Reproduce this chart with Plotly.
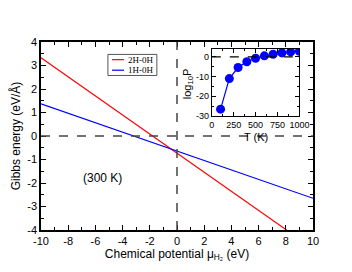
import plotly.graph_objects as go

mu = [-10, 10]
g_2h0h = [3.33, -4.79]
g_1h0h = [1.37, -2.65]

T = [100, 200, 300, 400, 500, 600, 700, 800, 900, 1000]
logP = [-26.5, -11, -5.4, -2.5, -0.7, 0.5, 1.3, 2.0, 2.5, 2.8]

x_ticks = [-10, -8, -6, -4, -2, 0, 2, 4, 6, 8, 10]
y_ticks = [-4, -3, -2, -1, 0, 1, 2, 3, 4]
t_ticks = [0, 250, 500, 750, 1000]
p_ticks = [-30, -20, -10, 0]

fig = go.Figure()
fig.add_trace(go.Scatter(x=mu, y=g_2h0h, mode="lines", line=dict(color="red", width=1.2), name="2H-0H",
                         showlegend=False))
fig.add_trace(go.Scatter(x=mu, y=g_1h0h, mode="lines", line=dict(color="blue", width=1.2), name="1H-0H",
                         showlegend=False))
fig.add_trace(go.Scatter(x=T, y=logP, mode="lines+markers", line=dict(color="blue", width=1.2),
                         marker=dict(color="blue", size=9), xaxis="x2", yaxis="y2", showlegend=False))

font = "Liberation Sans, Arial, sans-serif"
lbl = lambda v: str(v).replace("−", "-")
main_common = dict(showline=True, linecolor="black", linewidth=1.5, mirror="ticks", ticks="inside",
                   tickcolor="black", showgrid=False, zeroline=False, automargin=False,
                   tickfont=dict(size=11, color="black"), ticklen=5, tickwidth=1.2)
ins_common = dict(showline=True, linecolor="black", linewidth=1.2, mirror="ticks", ticks="inside",
                  tickcolor="black", showgrid=False, zeroline=False, automargin=False,
                  tickfont=dict(size=9, color="black"), ticklen=4, tickwidth=1)
fig.update_layout(
    width=352, height=272,
    margin=dict(l=33, r=47, t=34, b=50),
    paper_bgcolor="white", plot_bgcolor="white",
    font=dict(family=font, color="black"),
    showlegend=False,
    xaxis=dict(range=[-10, 10], tickvals=x_ticks, ticktext=[lbl(v) for v in x_ticks],
               minor=dict(dtick=1, ticks="inside", ticklen=3, tickcolor="black"),
               title=dict(text="Chemical potential μ<sub>H₂</sub> (eV)", font=dict(size=12), standoff=2),
               **main_common),
    yaxis=dict(range=[-4, 4], tickvals=y_ticks, ticktext=[lbl(v) for v in y_ticks],
               minor=dict(dtick=0.5, ticks="inside", ticklen=3, tickcolor="black"),
               title=dict(text="Gibbs energy (eV/Å)", font=dict(size=12), standoff=6),
               **main_common),
    xaxis2=dict(domain=[0.628, 0.950], anchor="y2", range=[0, 1000], tickvals=t_ticks,
                ticktext=[lbl(v) for v in t_ticks],
                minor=dict(dtick=125, ticks="inside", ticklen=2, tickcolor="black"),
                **ins_common),
    yaxis2=dict(domain=[0.606, 0.963], anchor="x2", range=[-30, 4], tickvals=p_ticks,
                ticktext=[lbl(v) for v in p_ticks],
                minor=dict(dtick=5, ticks="inside", ticklen=2, tickcolor="black"),
                **ins_common),
    shapes=[
        dict(type="line", xref="x", yref="y", x0=-10, x1=10, y0=0, y1=0,
             line=dict(color="#444", width=1.5, dash="dash")),
        dict(type="line", xref="x", yref="y", x0=0, x1=0, y0=-4, y1=4,
             line=dict(color="#444", width=1.5, dash="dash")),
        dict(type="line", xref="x2", yref="y2", x0=0, x1=1000, y0=0, y1=0,
             line=dict(color="black", width=1.2, dash="dash")),
        # legend box
        dict(type="rect", xref="paper", yref="paper", x0=0.246, x1=0.426, y0=0.822, y1=0.934,
             line=dict(color="#555", width=1), fillcolor="white", layer="above"),
        dict(type="line", xref="paper", yref="paper", x0=0.261, x1=0.305, y0=0.906, y1=0.906,
             line=dict(color="red", width=1.2), layer="above"),
        dict(type="line", xref="paper", yref="paper", x0=0.261, x1=0.305, y0=0.850, y1=0.850,
             line=dict(color="blue", width=1.2), layer="above"),
    ],
    annotations=[
        dict(x=-5.5, y=-1.8, xref="x", yref="y", text="(300 K)", showarrow=False,
             font=dict(size=12, color="black")),
        dict(x=0.318, y=0.906, xref="paper", yref="paper", text="2H-0H", showarrow=False,
             xanchor="left", yanchor="middle", borderpad=0,
             font=dict(family="Liberation Serif, serif", size=9, color="black")),
        dict(x=0.318, y=0.850, xref="paper", yref="paper", text="1H-0H", showarrow=False,
             xanchor="left", yanchor="middle", borderpad=0,
             font=dict(family="Liberation Serif, serif", size=9, color="black")),
        dict(x=0.540, y=0.78, xref="paper", yref="paper", text="log<sub>10</sub>P", showarrow=False,
             textangle=-90, xanchor="center", yanchor="middle", font=dict(size=11, color="black")),
        dict(x=0.789, y=0.532, xref="paper", yref="paper", text="T (K)", showarrow=False,
             xanchor="center", yanchor="top", borderpad=0, font=dict(size=11, color="black")),
    ],
)
fig.write_html("out.html")
